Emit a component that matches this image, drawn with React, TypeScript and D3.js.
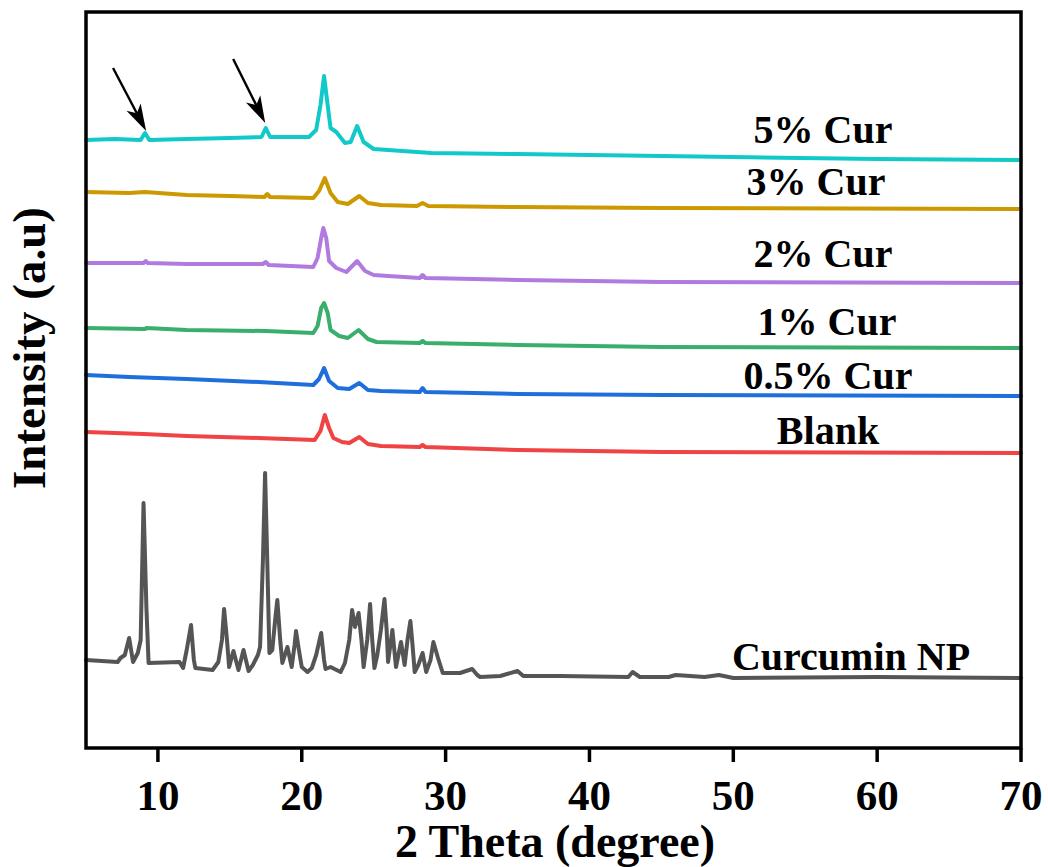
import React from "react";
import * as d3 from "d3";

// ---- Data (2θ in degrees, intensity in arbitrary units relative to each pattern's end value) ----
const seriesNames = ["5% Cur", "3% Cur", "2% Cur", "1% Cur", "0.5% Cur", "Blank", "Curcumin NP"];
const seriesColors = ["#12C9C9", "#CC9900", "#B07ADF", "#3AAE6C", "#1E6FDC", "#F04343", "#555555"];
const seriesOffsets = [588, 539, 465, 400, 352, 295, 70];

const cur5: [number, number][] = [
  [5, 20], [7, 21], [8.8, 20], [9.1, 27], [9.4, 20], [12, 21], [15, 22], [17.2, 23], [17.5, 32], [17.8, 23],
  [20.5, 23], [21.0, 30], [21.3, 55], [21.55, 84], [21.8, 55], [22.0, 32], [22.4, 28], [23.0, 17], [23.4, 18],
  [23.85, 34], [24.3, 18], [25.0, 11], [27, 9], [29, 7], [35, 6], [40, 5], [50, 3], [60, 1], [70, 0],
];
const cur3: [number, number][] = [
  [5, 17], [8, 16], [9.1, 17], [12, 14], [15, 13], [17.4, 12], [17.6, 15], [17.8, 12], [20.8, 11], [21.2, 18],
  [21.6, 31], [22.0, 16], [22.5, 7], [23.2, 5], [24.0, 13], [24.6, 6], [25.5, 4], [28.0, 3], [28.4, 6], [28.8, 3],
  [35, 2], [45, 1], [70, 0],
];
const cur2: [number, number][] = [
  [5, 20], [9.0, 20], [9.15, 22], [9.3, 20], [12, 19], [17.3, 19], [17.5, 21], [17.7, 18], [20.8, 16], [21.1, 25],
  [21.35, 45], [21.5, 55], [21.7, 45], [21.9, 22], [22.4, 15], [23.1, 11], [23.85, 22], [24.4, 12], [25.0, 8],
  [26, 7], [28.2, 5], [28.4, 8], [28.6, 5], [35, 3], [45, 1], [70, 0],
];
const cur1: [number, number][] = [
  [5, 20], [9.1, 19], [9.2, 20], [12, 18], [17.5, 17], [20.8, 15], [21.1, 22], [21.35, 40], [21.55, 45], [21.8, 35],
  [22.0, 18], [22.6, 12], [23.2, 10], [23.95, 18], [24.6, 9], [25.2, 6], [28.2, 5], [28.4, 7], [28.6, 5], [35, 3],
  [45, 1], [70, 0],
];
const cur05: [number, number][] = [
  [5, 21], [8, 19], [12, 17], [17, 14], [20.8, 11], [21.2, 17], [21.55, 28], [21.9, 15], [22.5, 8], [23.3, 7],
  [24.0, 13], [24.6, 6], [25.5, 5], [28.2, 4], [28.4, 8], [28.6, 4], [35, 2], [45, 1], [70, 0],
];
const blank: [number, number][] = [
  [5, 21], [9, 19], [12, 17], [17, 15], [20.9, 13], [21.3, 22], [21.6, 38], [21.9, 25], [22.2, 15], [22.8, 11],
  [23.3, 10], [24.0, 16], [24.6, 9], [25.5, 7], [28.2, 6], [28.4, 8], [28.6, 6], [35, 3], [45, 1], [70, 0],
];
const curcuminNP: [number, number][] = [
  [5, 18], [7.2, 16], [7.4, 20], [7.7, 23], [8.0, 40], [8.27, 16], [8.6, 25], [8.8, 38], [9.0, 175], [9.2, 70],
  [9.35, 15], [11.5, 16], [11.75, 10], [12.0, 28], [12.3, 53], [12.5, 18], [12.6, 10], [13.8, 8], [14.2, 16],
  [14.45, 38], [14.6, 69], [14.8, 38], [14.95, 11], [15.25, 27], [15.6, 8], [15.95, 28], [16.3, 7], [16.6, 13],
  [16.95, 23], [17.1, 31], [17.3, 118], [17.45, 205], [17.6, 118], [17.75, 25], [17.95, 28], [18.15, 58],
  [18.3, 78], [18.5, 38], [18.65, 15], [19.0, 31], [19.3, 11], [19.5, 33], [19.6, 47], [19.8, 28], [20.0, 11],
  [20.4, 6], [20.7, 10], [21.0, 23], [21.35, 45], [21.55, 18], [21.65, 9], [22.0, 11], [22.7, 6], [23.0, 15],
  [23.3, 38], [23.5, 68], [23.7, 51], [23.95, 65], [24.15, 38], [24.3, 11], [24.55, 38], [24.75, 74], [24.9, 38],
  [25.05, 10], [25.25, 23], [25.5, 48], [25.75, 79], [25.9, 48], [26.0, 16], [26.3, 48], [26.55, 11], [26.9, 36],
  [27.15, 13], [27.35, 38], [27.55, 57], [27.7, 33], [27.85, 6], [28.1, 13], [28.4, 25], [28.65, 6], [28.95, 18],
  [29.15, 36], [29.45, 21], [29.8, 5], [31.0, 5], [31.85, 9], [32.2, 3], [32.4, 1], [33.8, 2], [35.0, 7], [35.4, 2],
  [38, 2], [42.7, 1], [43.0, 6], [43.5, 1], [45.5, 1], [46, 3], [48, 1], [49, 3], [50, 0], [60, 1], [70, 0],
];
const seriesData = [cur5, cur3, cur2, cur1, cur05, blank, curcuminNP];

const xTicks = [10, 20, 30, 40, 50, 60, 70];
const xDomain: [number, number] = [5, 70];
const yDomain: [number, number] = [0, 736];

// arrows pointing at curcumin peaks in the 5% pattern: [θ start, I start, θ tip, I tip]
const arrowAnnots: [number, number, number, number][] = [
  [6.88, 680, 9.18, 617],
  [15.23, 689, 17.46, 625],
];

// ---- Layout ----
const W = 1048;
const H = 867;
const M = { left: 86, right: 1021, top: 12, bottom: 748 };
const labelLayout = [
  { cx: 823, dy: 17 },
  { cx: 816, dy: 14 },
  { cx: 823, dy: 16 },
  { cx: 827, dy: 13 },
  { cx: 828, dy: 7 },
  { cx: 828, dy: 9 },
  { cx: 851, dy: 8 },
];
const FONT = "'Liberation Serif', 'Times New Roman', Times, serif";

export default function App() {
  const x = d3.scaleLinear().domain(xDomain).range([M.left, M.right]);
  const y = d3.scaleLinear().domain(yDomain).range([M.bottom, M.top]);

  const lines = seriesData.map((pts, i) => {
    const off = seriesOffsets[i];
    const gen = d3
      .line<[number, number]>()
      .x((d) => x(d[0]))
      .y((d) => y(d[1] + off));
    return gen(pts) || "";
  });

  const arrows = arrowAnnots.map(([t0, i0, t1, i1]) => {
    const x0 = x(t0), y0 = y(i0), x1 = x(t1), y1 = y(i1);
    const dx = x1 - x0, dy = y1 - y0;
    const len = Math.hypot(dx, dy);
    const ux = dx / len, uy = dy / len;
    const hl = 27, hw = 8;
    const bx = x1 - ux * hl, by = y1 - uy * hl;
    const px = -uy, py = ux;
    const head = `M${x1},${y1}L${bx + px * hw},${by + py * hw}L${bx + ux * 7},${by + uy * 7}L${bx - px * hw},${by - py * hw}Z`;
    return { x0, y0, bx: bx + ux * 7, by: by + uy * 7, head };
  });

  return (
    <svg
      width={W}
      height={H}
      style={{ position: "absolute", left: 0, top: 0, background: "#fff" }}
      fontFamily={FONT}
    >
      <rect x={0} y={0} width={W} height={H} fill="#fff" />
      {lines.map((d, i) => (
        <path
          key={i}
          d={d}
          fill="none"
          stroke={seriesColors[i]}
          strokeWidth={4}
          strokeLinejoin="round"
          strokeLinecap="round"
        />
      ))}
      {arrows.map((a, i) => (
        <g key={i}>
          <line x1={a.x0} y1={a.y0} x2={a.bx} y2={a.by} stroke="#000" strokeWidth={2.4} />
          <path d={a.head} fill="#000" />
        </g>
      ))}
      {seriesNames.map((name, i) => (
        <text
          key={name}
          x={labelLayout[i].cx}
          y={y(seriesOffsets[i] + labelLayout[i].dy)}
          textAnchor="middle"
          fontSize={40}
          fontWeight="bold"
          fill="#000"
        >
          {name}
        </text>
      ))}
      {/* frame */}
      <rect
        x={M.left}
        y={M.top}
        width={M.right - M.left}
        height={M.bottom - M.top}
        fill="none"
        stroke="#000"
        strokeWidth={3.5}
      />
      {xTicks.map((t) => (
        <g key={t}>
          <line x1={x(t)} x2={x(t)} y1={M.bottom} y2={M.bottom + 14} stroke="#000" strokeWidth={3.5} />
          <text x={x(t)} y={M.bottom + 62} textAnchor="middle" fontSize={43} fontWeight="bold" fill="#000">
            {t}
          </text>
        </g>
      ))}
      <text x={555} y={857} textAnchor="middle" fontSize={46} fontWeight="bold" fill="#000">
        2 Theta (degree)
      </text>
      <text
        transform={`translate(45, ${(M.top + M.bottom) / 2 - 32}) rotate(-90)`}
        textAnchor="middle"
        fontSize={47}
        fontWeight="bold"
        fill="#000"
      >
        Intensity (a.u)
      </text>
    </svg>
  );
}
